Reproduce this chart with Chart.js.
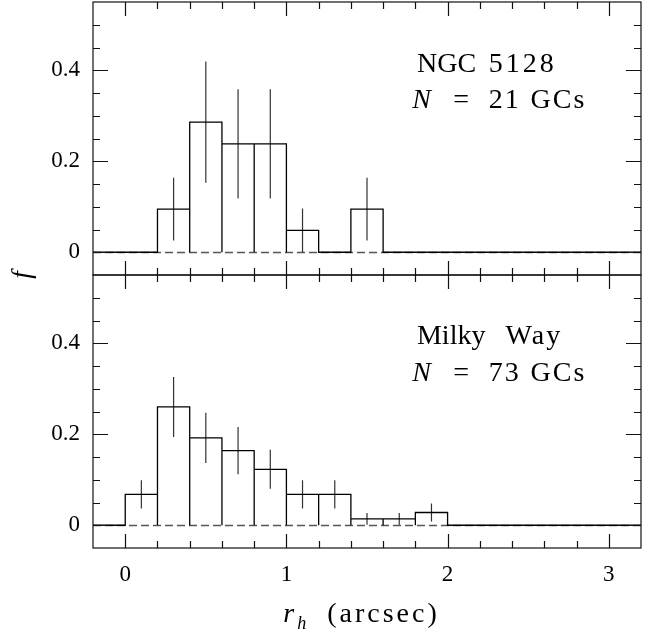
<!DOCTYPE html>
<html>
<head>
<meta charset="utf-8">
<script src="https://cdn.jsdelivr.net/npm/chart.js@4.4.1/dist/chart.umd.min.js"></script>
<style>
  html, body { margin: 0; padding: 0; background: #fff; }
  #wrap { width: 653px; height: 635px; }
</style>
</head>
<body>
<div id="wrap"><canvas id="chart" width="653" height="635"></canvas></div>
<script>
// half-light radius bins (arcsec), left edges, width 0.2
const binLeft = [0, 0.2, 0.4, 0.6, 0.8, 1.0, 1.2, 1.4, 1.6, 1.8];
const binWidth = 0.2;

// NGC 5128, N = 21
const ngcFrac = [0, 0.095, 0.286, 0.238, 0.238, 0.048, 0, 0.095, 0, 0];
const ngcErr = [0, 0.069, 0.133, 0.12, 0.12, 0.048, 0, 0.069, 0, 0];

// Milky Way, N = 73
const mwFrac = [0.068, 0.26, 0.192, 0.164, 0.123, 0.068, 0.068, 0.014, 0.014, 0.028];
const mwErr = [0.031, 0.066, 0.055, 0.052, 0.043, 0.031, 0.031, 0.013, 0.013, 0.02];

const xRange = [-0.2, 3.2];
const yRange = [-0.05, 0.55];
const xTicks = [0, 1, 2, 3];
const yTicks = [0, 0.2, 0.4];
const xMinorStep = 0.2;
const yMinorStep = 0.05;

const serif = '"Liberation Serif", "Times New Roman", serif';

// open boxes, no bottom edge, so the dashed zero line shows under the bars
function histLine(frac) {
  const pts = [{ x: xRange[0], y: 0 }];
  binLeft.forEach((l, i) => {
    const r = l + binWidth;
    pts.push({ x: l, y: 0 }, { x: l, y: frac[i] }, { x: r, y: frac[i] }, { x: r, y: 0 });
  });
  pts.push({ x: xRange[1], y: 0 });
  return pts;
}

function errLine(frac, err) {
  const pts = [];
  binLeft.forEach((l, i) => {
    if (!err[i]) return;
    const c = l + binWidth / 2;
    pts.push({ x: c, y: frac[i] - err[i] }, { x: c, y: frac[i] + err[i] }, { x: c, y: null });
  });
  return pts;
}

function yScale() {
  return {
    type: "linear",
    position: "left",
    stack: "f",
    stackWeight: 1,
    min: yRange[0],
    max: yRange[1],
    grid: { display: false, drawTicks: false },
    border: { display: false },
    ticks: {
      color: "#000",
      padding: 13,
      font: { family: serif, size: 23 },
      callback: (v) => String(v),
    },
    afterBuildTicks: (s) => {
      s.ticks = yTicks.map((v) => ({ value: v }));
    },
    afterFit: (s) => {
      s.width = 93;
      s.paddingTop = 0;
      s.paddingBottom = 0;
    },
  };
}

// panel labels, placed in data units of each panel
const panelText = {
  yTop: [
    { t: "NGC", x: 1.81, y: 0.396, ls: 0 },
    { t: "5128", x: 2.255, y: 0.396, ls: 3 },
    { t: "N", x: 1.78, y: 0.317, italic: true },
    { t: "=", x: 2.035, y: 0.317 },
    { t: "21", x: 2.255, y: 0.317 },
    { t: "GCs", x: 2.515, y: 0.317 },
  ],
  yBot: [
    { t: "Milky", x: 1.81, y: 0.398, ls: 0 },
    { t: "Way", x: 2.36, y: 0.398 },
    { t: "N", x: 1.78, y: 0.317, italic: true },
    { t: "=", x: 2.035, y: 0.317 },
    { t: "73", x: 2.255, y: 0.317 },
    { t: "GCs", x: 2.515, y: 0.317 },
  ],
};

const panelsPlugin = {
  id: "panels",
  beforeDatasetsDraw(chart) {
    const ctx = chart.ctx;
    const { left, right } = chart.chartArea;
    ctx.save();
    ctx.strokeStyle = "#555";
    ctx.lineWidth = 1.3;
    ctx.setLineDash([8, 4]);
    ["yTop", "yBot"].forEach((id) => {
      const y0 = Math.round(chart.scales[id].getPixelForValue(0)) + 0.5;
      ctx.beginPath();
      ctx.moveTo(left, y0);
      ctx.lineTo(right, y0);
      ctx.stroke();
    });
    ctx.restore();
  },
  afterDraw(chart) {
    const ctx = chart.ctx;
    const xs = chart.scales.x;
    const { left, right } = chart.chartArea;
    ctx.save();
    ctx.strokeStyle = "#111";
    ctx.lineWidth = 1.2;
    ["yTop", "yBot"].forEach((id) => {
      const ys = chart.scales[id];
      const top = ys.top;
      const bottom = ys.bottom;
      ctx.strokeRect(left, top, right - left, bottom - top);

      ctx.beginPath();
      for (let k = 1; xRange[0] + k * xMinorStep < xRange[1] - 1e-6; k++) {
        const v = xRange[0] + k * xMinorStep;
        const major = xTicks.some((t) => Math.abs(t - v) < 1e-6);
        const len = major ? 14 : 7;
        const px = Math.round(xs.getPixelForValue(v)) + 0.5;
        ctx.moveTo(px, top);
        ctx.lineTo(px, top + len);
        ctx.moveTo(px, bottom);
        ctx.lineTo(px, bottom - len);
      }
      for (let k = 1; yRange[0] + k * yMinorStep < yRange[1] - 1e-6; k++) {
        const v = yRange[0] + k * yMinorStep;
        const major = yTicks.some((t) => Math.abs(t - v) < 1e-6);
        const len = major ? 15 : 7;
        const py = Math.round(ys.getPixelForValue(v)) + 0.5;
        ctx.moveTo(left, py);
        ctx.lineTo(left + len, py);
        ctx.moveTo(right, py);
        ctx.lineTo(right - len, py);
      }
      ctx.stroke();

      ctx.fillStyle = "#000";
      ctx.textBaseline = "alphabetic";
      ctx.textAlign = "left";
      panelText[id].forEach((p) => {
        ctx.letterSpacing = (p.ls === undefined ? 2 : p.ls) + "px";
        ctx.font = (p.italic ? "italic " : "") + "28px " + serif;
        ctx.fillText(p.t, xs.getPixelForValue(p.x), ys.getPixelForValue(p.y));
      });
    });

    // axis titles
    ctx.letterSpacing = "0px";
    ctx.save();
    ctx.translate(23, (chart.chartArea.top + chart.chartArea.bottom) / 2);
    ctx.rotate(-Math.PI / 2);
    ctx.textAlign = "center";
    ctx.textBaseline = "middle";
    ctx.font = "italic 27px " + serif;
    ctx.fillText("f", 0, 0);
    ctx.restore();

    const base = 622;
    const x0 = xs.getPixelForValue(0.98);
    ctx.textAlign = "left";
    ctx.font = "italic 28px " + serif;
    ctx.fillText("r", x0, base);
    ctx.font = "italic 18px " + serif;
    ctx.fillText("h", x0 + 14, base + 7);
    ctx.font = "28px " + serif;
    ctx.letterSpacing = "3px";
    ctx.fillText("(arcsec)", x0 + 44, base);
    ctx.restore();
  },
};

new Chart(document.getElementById("chart"), {
  type: "scatter",
  data: {
    datasets: [
      { data: histLine(ngcFrac), yAxisID: "yTop", borderColor: "#000", borderWidth: 1.3, showLine: true, pointRadius: 0 },
      { data: errLine(ngcFrac, ngcErr), yAxisID: "yTop", borderColor: "#333", borderWidth: 1.2, showLine: true, pointRadius: 0, spanGaps: false },
      { data: histLine(mwFrac), yAxisID: "yBot", borderColor: "#000", borderWidth: 1.3, showLine: true, pointRadius: 0 },
      { data: errLine(mwFrac, mwErr), yAxisID: "yBot", borderColor: "#333", borderWidth: 1.2, showLine: true, pointRadius: 0, spanGaps: false },
    ],
  },
  options: {
    responsive: false,
    animation: false,
    events: [],
    layout: { padding: { top: 2, right: 12, left: 0, bottom: 0 } },
    plugins: { legend: { display: false }, tooltip: { enabled: false } },
    scales: {
      x: {
        type: "linear",
        position: "bottom",
        min: xRange[0],
        max: xRange[1],
        grid: { display: false, drawTicks: false },
        border: { display: false },
        ticks: {
          color: "#000",
          padding: 13,
          maxRotation: 0,
          autoSkip: false,
          font: { family: serif, size: 23 },
        },
        afterBuildTicks: (s) => {
          s.ticks = xTicks.map((v) => ({ value: v }));
        },
        afterFit: (s) => {
          s.height = 87;
          s.paddingLeft = 0;
          s.paddingRight = 0;
        },
      },
      // stacked left axes: the one listed last ends up on top
      yBot: yScale(),
      yTop: yScale(),
    },
  },
  plugins: [panelsPlugin],
});
</script>
</body>
</html>
